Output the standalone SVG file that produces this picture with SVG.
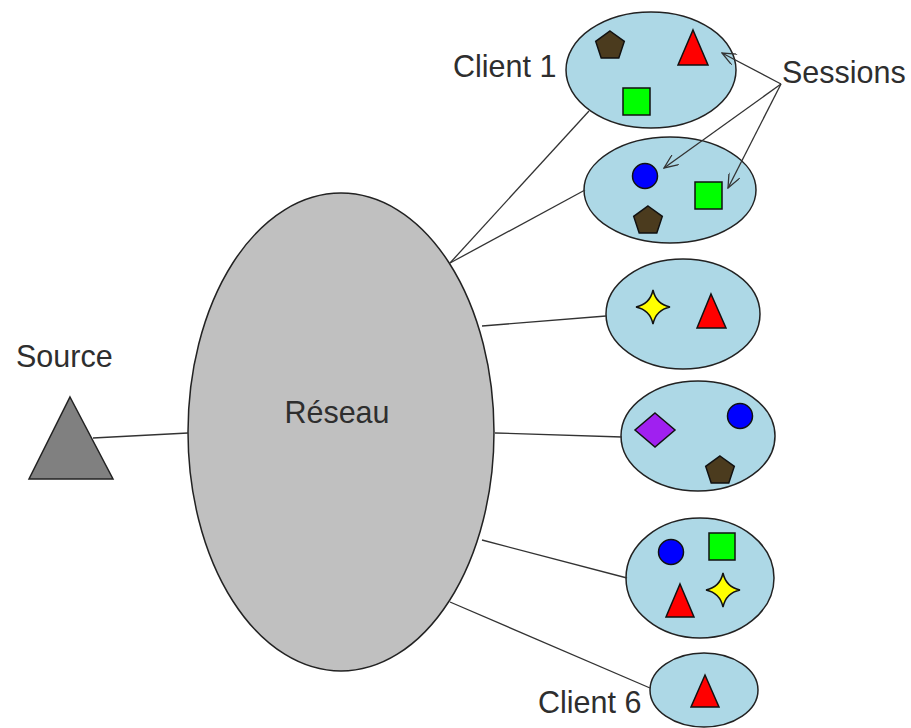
<svg xmlns="http://www.w3.org/2000/svg" width="911" height="728" viewBox="0 0 911 728">
  <defs>
    <marker id="open-arrow" markerWidth="16" markerHeight="12" refX="15" refY="6" orient="auto" markerUnits="userSpaceOnUse">
      <path d="M1,0 L15,6 L1,12" fill="none" stroke="#333" stroke-width="1.3"/>
    </marker>
    <path id="pent" d="M0,-15 L14.3,-4.6 L8.8,12.1 L-8.8,12.1 L-14.3,-4.6 Z"/>
    <path id="star" d="M0,-17 Q3,-3 17,0 Q3,3 0,17 Q-3,3 -17,0 Q-3,-3 0,-17 Z"/>
  </defs>
  <style>
    .lbl { font-family: "Liberation Sans", Arial, sans-serif; font-size: 30.5px; fill: #2e2e2e; }
    .link { stroke: #333; stroke-width: 1.3; fill: none; }
    .arrow { stroke: #333; stroke-width: 1.3; fill: none; marker-end: url(#open-arrow); }
    .client { fill: #add8e6; stroke: #222; stroke-width: 1.5; }
    .net { fill: #c0c0c0; stroke: #222; stroke-width: 1.5; }
    .shape { stroke: #111; stroke-width: 1.5; stroke-linejoin: miter; }
    .brown { fill: #4b3b1e; }
    .red { fill: #ff0000; }
    .green { fill: #00ff00; }
    .blue { fill: #0000ff; }
    .yellow { fill: #ffff00; }
    .purple { fill: #a020f0; }
  </style>

  <!-- source -->
  <g id="source">
    <polygon points="70,397 113,479 29,479" fill="#808080" stroke="#222" stroke-width="1.5"/>
    <text class="lbl" x="16" y="367">Source</text>
  </g>

  <!-- network -->
  <g id="reseau">
    <ellipse class="net" cx="341" cy="432" rx="153" ry="239"/>
    <text class="lbl" x="337" y="423" text-anchor="middle">Réseau</text>
  </g>

  <!-- client 1 -->
  <g id="client1">
    <ellipse class="client" cx="651" cy="70" rx="85" ry="58"/>
    <use href="#pent" x="610" y="46" class="shape brown"/>
    <polygon class="shape red" points="693,30 708,65 678,65"/>
    <rect class="shape green" x="623" y="88" width="27" height="27"/>
    <text class="lbl" x="453" y="77">Client 1</text>
  </g>

  <!-- client 2 -->
  <g id="client2">
    <ellipse class="client" cx="670" cy="190" rx="86" ry="53"/>
    <circle class="shape blue" cx="645" cy="176" r="12.5"/>
    <rect class="shape green" x="695" y="182" width="27" height="27"/>
    <use href="#pent" x="648" y="221" class="shape brown"/>
  </g>

  <!-- client 3 -->
  <g id="client3">
    <ellipse class="client" cx="683" cy="314" rx="77" ry="55"/>
    <use href="#star" x="653" y="307" class="shape yellow"/>
    <polygon class="shape red" points="711,294 726,328 697,328"/>
  </g>

  <!-- client 4 -->
  <g id="client4">
    <ellipse class="client" cx="698" cy="436" rx="77" ry="55"/>
    <polygon class="shape purple" points="655,413 675,430 655,447 635,430"/>
    <circle class="shape blue" cx="740" cy="416" r="12.5"/>
    <use href="#pent" x="720" y="471" class="shape brown"/>
  </g>

  <!-- client 5 -->
  <g id="client5">
    <ellipse class="client" cx="700" cy="578" rx="74" ry="60"/>
    <circle class="shape blue" cx="671" cy="552" r="12.5"/>
    <rect class="shape green" x="709" y="533" width="26" height="27"/>
    <polygon class="shape red" points="680,584 694,617 666,617"/>
    <use href="#star" x="723" y="590" class="shape yellow"/>
  </g>

  <!-- client 6 -->
  <g id="client6">
    <ellipse class="client" cx="704" cy="690" rx="54" ry="37"/>
    <polygon class="shape red" points="705,675 719,707 691,707"/>
    <text class="lbl" x="538" y="713">Client 6</text>
  </g>

  <!-- sessions label -->
  <g id="sessions">
    <text class="lbl" x="782" y="83">Sessions</text>
  </g>

  <!-- connectors, drawn on top so the session arrows cross the client ellipses -->
  <g id="connectors">
    <line class="link" x1="93" y1="438" x2="188" y2="433"/>
    <line class="link" x1="450" y1="263" x2="589" y2="111"/>
    <line class="link" x1="450" y1="263" x2="585" y2="190"/>
    <line class="link" x1="482" y1="326" x2="606" y2="316"/>
    <line class="link" x1="495" y1="433" x2="622" y2="437"/>
    <line class="link" x1="482" y1="540" x2="627" y2="578"/>
    <line class="link" x1="450" y1="602" x2="650" y2="688"/>
    <line class="arrow" x1="781" y1="84" x2="722" y2="53"/>
    <line class="arrow" x1="781" y1="84" x2="664" y2="168"/>
    <line class="arrow" x1="781" y1="84" x2="728" y2="188"/>
  </g>
</svg>
